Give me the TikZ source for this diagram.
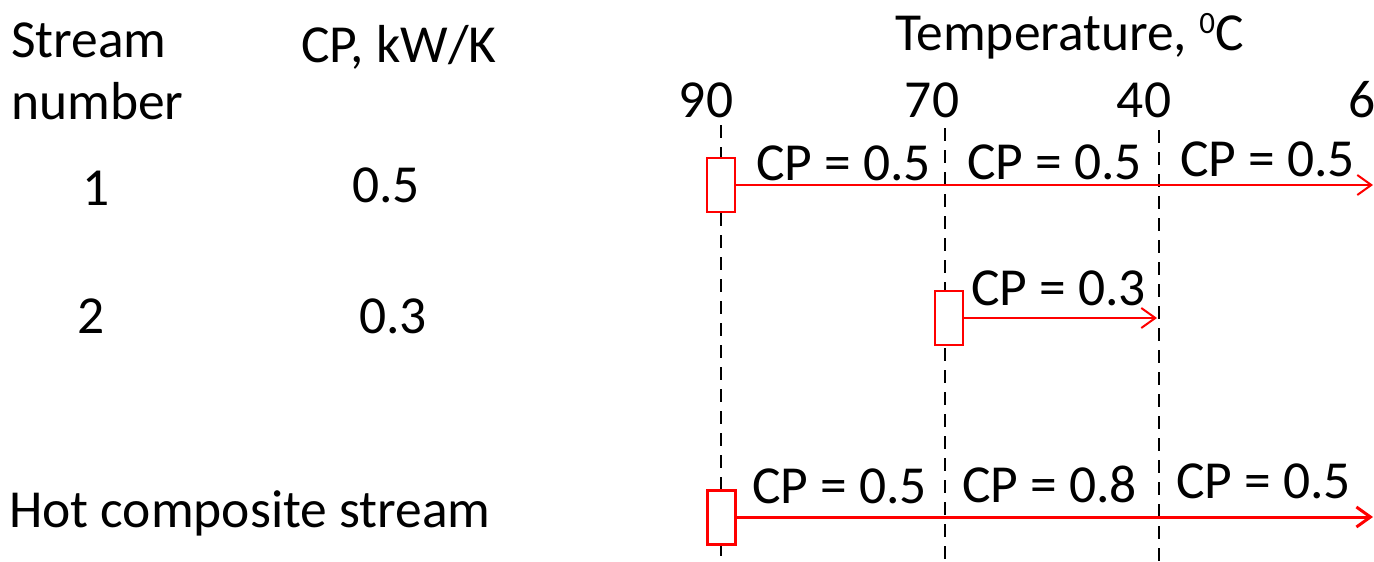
\documentclass[tikz,border=0pt]{standalone}
\usepackage{fontspec}
\setmainfont{Carlito}
\usetikzlibrary{arrows.meta}
\begin{document}
\begin{tikzpicture}[x=1pt,y=-1pt,
  lbl/.style={anchor=base west, inner sep=0pt, font=\fontsize{53.5}{64}\selectfont},
  tick/.style={anchor=base, inner sep=0pt, font=\fontsize{53.5}{64}\selectfont},
  guide/.style={black, line width=2pt, dash pattern=on 13pt off 9pt},
  streambox/.style={draw=red, line width=2pt, fill=white, minimum width=28pt, minimum height=54pt, inner sep=0pt},
  compbox/.style={streambox, line width=3pt},
  flow/.style={red, line width=2pt, -{Straight Barb[length=14pt,width=20pt]}},
  compflow/.style={flow, line width=3pt},
]
\useasboundingbox (0,0) rectangle (1374,562);

% left column
\node[lbl] (hs) at (11,57) {Stream};
\node[lbl] (hn) at (11,119) {number};
\node[lbl] (hcp) at (301,62) {CP, kW/K};
\node[lbl] (s1) at (82,205) {1};
\node[lbl] (c1) at (352,202) {0.5};
\node[lbl] (s2) at (77,333) {2};
\node[lbl] (c2) at (359,333) {0.3};
\node[lbl] (hc) at (9,527) {Hot composite stream};

% temperature axis
\node[lbl] (temp) at (895,50) {Temperature, \raisebox{17pt}{\fontsize{31}{31}\selectfont 0}C};
\node[tick] (t90) at (706,117) {90};
\node[tick] (t70) at (932,117) {70};
\node[tick] (t40) at (1144,117) {40};
\node[lbl] (t60) at (1348,117) {6};

% dashed temperature guides
\coordinate (g90a) at (721,125);
\coordinate (g90b) at (721,562);
\coordinate (g70a) at (945,128);
\coordinate (g70b) at (945,562);
\coordinate (g40a) at (1159,130);
\coordinate (g40b) at (1159,562);
\draw[guide] (g90a) -- (g90b);
\draw[guide] (g70a) -- (g70b);
\draw[guide] (g40a) -- (g40b);

% stream 1
\node[streambox] (b1) at (721,185) {};
\coordinate (e1) at (1373,185);
\draw[flow] (b1.east) -- (e1);
\node[lbl] (l1a) at (756,180) {CP = 0.5};
\node[lbl] (l1b) at (967,179) {CP = 0.5};
\node[lbl] (l1c) at (1180,176) {CP = 0.5};

% stream 2
\node[streambox] (b2) at (948.5,318) {};
\coordinate (e2) at (1157,318);
\draw[flow] (b2.east) -- (e2);
\node[lbl] (l2) at (971,305) {CP = 0.3};

% hot composite stream
\node[compbox] (b3) at (721,517) {};
\coordinate (e3) at (1373,517);
\draw[compflow] (b3.east) -- (e3);
\node[lbl] (l3a) at (752,503) {CP = 0.5};
\node[lbl] (l3b) at (962,502) {CP = 0.8};
\node[lbl] (l3c) at (1176,498) {CP = 0.5};
\end{tikzpicture}
\end{document}
